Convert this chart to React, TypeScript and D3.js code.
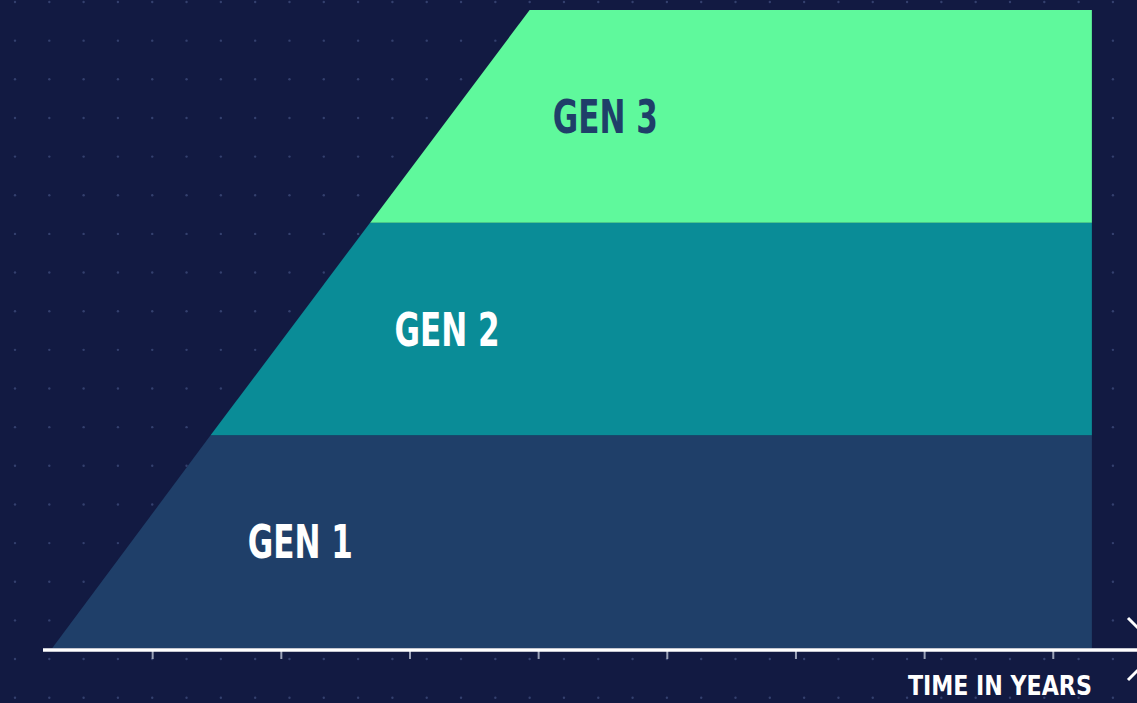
import React from "react";
import * as d3 from "d3";

// ---- data ----
const generations = ["GEN 1", "GEN 2", "GEN 3"];
// year at which the left (rising) edge crosses each band boundary (levels 0..3)
const boundaryStartYears = [0.22, 1.45, 2.69, 3.93];
const endYear = 8.3;
const labelYears = [1.74, 2.88, 4.11];
const tickYears = [1, 2, 3, 4, 5, 6, 7, 8];
const axisTitle = "TIME IN YEARS";

const W = 1137;
const H = 703;
const COLORS = ["#1f3f69", "#0a8c97", "#5ff99c"];
const LABEL_COLORS = ["#ffffff", "#ffffff", "#1f3f69"];
const BG = "#121a42";

export default function App() {
  const x = d3.scaleLinear().domain([0, 1]).range([24, 152.66]);
  const y = d3.scaleLinear().domain([0, 3]).range([648, 10]);

  const bands = generations.map((g, i) => {
    const pts: [number, number][] = [
      [boundaryStartYears[i], i],
      [endYear, i],
      [endYear, i + 1],
      [boundaryStartYears[i + 1], i + 1],
    ];
    const line = d3
      .line<[number, number]>()
      .x((d) => x(d[0]))
      .y((d) => y(d[1]))
      .curve(d3.curveLinearClosed);
    return { g, i, path: line(pts) as string };
  });

  const dotsX = d3.range(15, W + 1, 34.31);
  const dotsY = d3.range(2, H + 1, 38.65);

  const axisY = 650;
  const font = "'Liberation Sans Narrow', 'DejaVu Sans Condensed', 'Roboto Condensed', sans-serif";

  return (
    <svg
      width={W}
      height={H}
      style={{ position: "absolute", left: 0, top: 0, display: "block" }}
    >
      <rect x={0} y={0} width={W} height={H} fill={BG} />
      <g fill="#34406e">
        {dotsY.map((dy) =>
          dotsX.map((dx) => (
            <circle key={`${dx}-${dy}`} cx={dx} cy={dy} r={1.2} />
          ))
        )}
      </g>
      {bands.map((b) => (
        <path key={b.g} d={b.path} fill={COLORS[b.i]} />
      ))}
      {bands.map((b) => (
        <text
          key={b.g + "l"}
          x={x(labelYears[b.i])}
          y={y(b.i + 0.5) + 16.5}
          fill={LABEL_COLORS[b.i]}
          fontFamily={font}
          fontWeight="bold"
          fontSize={46}
          textLength={105}
          lengthAdjust="spacingAndGlyphs"
        >
          {b.g}
        </text>
      ))}
      {/* axis */}
      {tickYears.map((t) => (
        <line
          key={t}
          x1={x(t)}
          x2={x(t)}
          y1={axisY}
          y2={axisY + 9}
          stroke="#9ca3b8"
          strokeWidth={2}
        />
      ))}
      <line x1={43} x2={W} y1={axisY} y2={axisY} stroke="#ffffff" strokeWidth={3.5} />
      <polyline
        points={`1128,618 1159,649 1128,680`}
        fill="none"
        stroke="#ffffff"
        strokeWidth={3}
      />
      <text
        x={x(endYear)}
        y={695}
        textAnchor="end"
        fill="#ffffff"
        fontFamily={font}
        fontWeight="bold"
        fontSize={27}
        textLength={184}
        lengthAdjust="spacingAndGlyphs"
      >
        {axisTitle}
      </text>
    </svg>
  );
}
